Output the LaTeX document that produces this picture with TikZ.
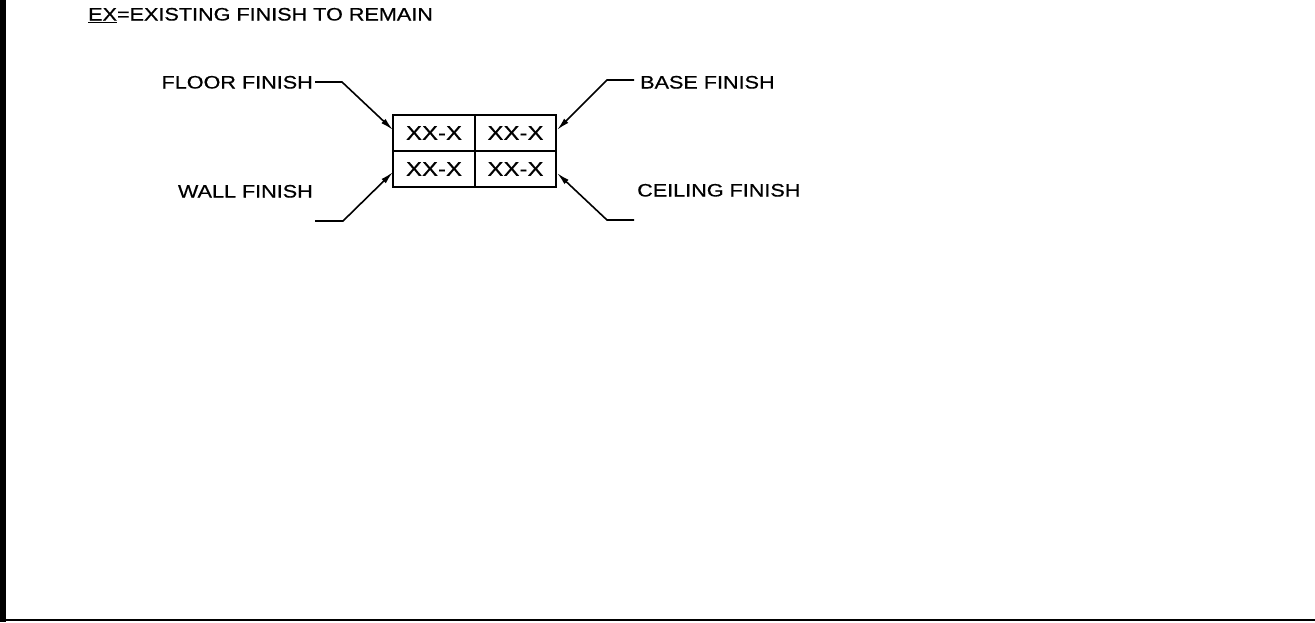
\documentclass[tikz,border=0pt]{standalone}
\usepackage{fontspec}
\setmainfont{Liberation Sans}[FakeStretch=1.2,FakeBold=0.6]
\usetikzlibrary{arrows.meta}
\begin{document}
\begin{tikzpicture}[x=1pt,y=-1pt,
  lbl/.style={inner sep=0pt, text height=13pt, text depth=0pt, font=\fontsize{18}{18}\selectfont},
  cell/.style={draw, line width=1.8pt, minimum width=82pt, minimum height=36pt, inner sep=0pt, font=\fontsize{20}{20}\selectfont},
  leader/.style={line width=1.6pt, -{Latex[length=13pt,width=6pt]}},
  frame/.style={line width=2pt}]
\useasboundingbox (0,0) rectangle (1315,622);
% frame
\draw[frame, line width=6pt] (3,0) -- (3,622);
\draw[frame] (0,620) -- (1315,620);
% title
\node[lbl, anchor=west] (title) at (88,14) {\underline{EX}=EXISTING FINISH TO REMAIN};
% finish key
\node[cell] (c11) at (434,133) {XX-X};
\node[cell, minimum width=81pt] (c12) at (515.5,133) {XX-X};
\node[cell] (c21) at (434,169) {XX-X};
\node[cell, minimum width=81pt] (c22) at (515.5,169) {XX-X};
% labels
\node[lbl, anchor=east] (floor) at (313,82) {FLOOR FINISH};
\node[lbl, anchor=east] (wall) at (313,191) {WALL FINISH};
\node[lbl, anchor=west] (base) at (640,82) {BASE FINISH};
\node[lbl, anchor=west] (ceil) at (637,190) {CEILING FINISH};
% leader coordinates
\coordinate (fs) at (315,82);
\coordinate (fb) at (342,82);
\coordinate (fe) at (393,130);
\coordinate (ws) at (315,221);
\coordinate (wb) at (343,221);
\coordinate (we) at (393,172);
\coordinate (bs) at (634,80);
\coordinate (bb) at (607,80);
\coordinate (be) at (557,130);
\coordinate (cs) at (634,220);
\coordinate (cb) at (607,220);
\coordinate (ce) at (557,173);
% leaders
\draw[leader] (fs) -- (fb) -- (fe);
\draw[leader] (ws) -- (wb) -- (we);
\draw[leader] (bs) -- (bb) -- (be);
\draw[leader] (cs) -- (cb) -- (ce);
\end{tikzpicture}
\end{document}
